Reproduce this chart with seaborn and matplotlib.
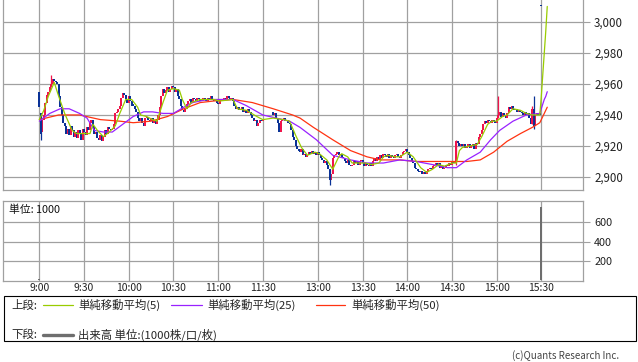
import numpy as np
import seaborn as sns
import matplotlib
matplotlib.use('Agg')
import matplotlib.pyplot as plt
from matplotlib.lines import Line2D
from matplotlib.patches import Rectangle

# 1-minute bars: morning 9:00-11:30, afternoon 12:30-15:30
am_open = [2955, 2941, 2929, 2937, 2940, 2948, 2953, 2955, 2958, 2960,
           2963, 2962, 2961, 2960, 2952, 2945, 2940, 2935, 2933, 2928,
           2931, 2927, 2933, 2930, 2926, 2929, 2925, 2930, 2928, 2924,
           2931, 2929, 2927, 2932, 2930, 2935, 2937, 2933, 2928, 2929,
           2925, 2924, 2927, 2923, 2926, 2930, 2928, 2932, 2931, 2930,
           2931, 2934, 2941, 2942, 2944, 2946, 2951, 2954, 2953, 2950,
           2948, 2952, 2949, 2946, 2946, 2944, 2942, 2938, 2936, 2938,
           2935, 2933, 2938, 2939, 2937, 2936, 2938, 2935, 2937, 2934,
           2937, 2940, 2945, 2952, 2957, 2954, 2956, 2958, 2955, 2957,
           2959, 2958, 2955, 2957, 2952, 2950, 2946, 2943, 2942, 2944,
           2947, 2949, 2950, 2948, 2951, 2950, 2949, 2951, 2950, 2949,
           2950, 2951, 2950, 2949, 2951, 2950, 2952, 2950, 2949, 2950,
           2948, 2947, 2949, 2950, 2949, 2951, 2950, 2952, 2951, 2950,
           2951, 2949, 2946, 2944, 2945, 2943, 2944, 2945, 2942, 2943,
           2941, 2944, 2942, 2940, 2938, 2936, 2937, 2933, 2935, 2937,
           2936]
am_close = [2945, 2928, 2937, 2940, 2948, 2953, 2955, 2958, 2960, 2963,
            2962, 2961, 2960, 2952, 2945, 2940, 2935, 2933, 2928, 2931,
            2927, 2933, 2930, 2926, 2929, 2925, 2930, 2928, 2924, 2931,
            2929, 2927, 2932, 2930, 2935, 2937, 2933, 2928, 2929, 2925,
            2924, 2927, 2923, 2926, 2930, 2928, 2932, 2931, 2930, 2931,
            2934, 2941, 2942, 2944, 2946, 2951, 2954, 2953, 2950, 2948,
            2952, 2949, 2946, 2946, 2944, 2942, 2938, 2936, 2938, 2935,
            2933, 2938, 2939, 2937, 2936, 2938, 2935, 2937, 2934, 2937,
            2940, 2945, 2952, 2957, 2954, 2956, 2958, 2955, 2957, 2959,
            2958, 2955, 2957, 2952, 2950, 2946, 2943, 2942, 2944, 2947,
            2949, 2950, 2948, 2951, 2950, 2949, 2951, 2950, 2949, 2950,
            2951, 2950, 2949, 2951, 2950, 2952, 2950, 2949, 2950, 2948,
            2947, 2949, 2950, 2949, 2951, 2950, 2952, 2951, 2950, 2951,
            2949, 2946, 2944, 2945, 2943, 2944, 2945, 2942, 2943, 2941,
            2944, 2942, 2940, 2938, 2936, 2937, 2933, 2935, 2937, 2936,
            2937]
pm_open = [2942, 2940, 2941, 2938, 2935, 2929, 2936, 2937, 2938, 2936,
           2937, 2935, 2934, 2930, 2926, 2924, 2920, 2918, 2917, 2916,
           2918, 2914, 2915, 2913, 2914, 2916, 2915, 2917, 2915, 2916,
           2914, 2916, 2914, 2912, 2911, 2909, 2910, 2908, 2905, 2898,
           2902, 2912, 2914, 2915, 2916, 2914, 2915, 2913, 2912, 2910,
           2909, 2911, 2908, 2907, 2908, 2910, 2909, 2910, 2908, 2910,
           2911, 2909, 2907, 2909, 2908, 2907, 2909, 2907, 2910, 2912,
           2910, 2913, 2911, 2914, 2912, 2915, 2914, 2913, 2915, 2912,
           2914, 2913, 2912, 2914, 2915, 2913, 2912, 2914, 2916, 2917,
           2918, 2916, 2914, 2912, 2910, 2909, 2906, 2905, 2904, 2903,
           2904, 2902, 2903, 2902, 2904, 2905, 2906, 2905, 2907, 2908,
           2909, 2907, 2909, 2906, 2907, 2905, 2906, 2908, 2907, 2909,
           2908, 2910, 2909, 2910, 2923, 2922, 2920, 2921, 2920, 2921,
           2919, 2920, 2921, 2919, 2920, 2921, 2918, 2922, 2921, 2926,
           2928, 2930, 2934, 2936, 2935, 2937, 2936, 2935, 2937, 2936,
           2935, 2938, 2940, 2942, 2939, 2941, 2940, 2938, 2941, 2945,
           2944, 2946, 2944, 2943, 2944, 2942, 2943, 2942, 2941, 2940,
           2942, 2940, 2941, 2938, 2934, 2944, 2933, 2940, 2941, 2940,
           3011]
pm_close = [2940, 2941, 2938, 2935, 2929, 2936, 2937, 2938, 2936, 2937,
            2935, 2934, 2930, 2926, 2924, 2920, 2918, 2917, 2916, 2918,
            2914, 2915, 2913, 2914, 2916, 2915, 2917, 2915, 2916, 2914,
            2916, 2914, 2912, 2911, 2909, 2910, 2908, 2905, 2898, 2902,
            2912, 2914, 2915, 2916, 2914, 2915, 2913, 2912, 2910, 2909,
            2911, 2908, 2907, 2908, 2910, 2909, 2910, 2908, 2910, 2911,
            2909, 2907, 2909, 2908, 2907, 2909, 2907, 2910, 2912, 2910,
            2913, 2911, 2914, 2912, 2915, 2914, 2913, 2915, 2912, 2914,
            2913, 2912, 2914, 2915, 2913, 2912, 2914, 2916, 2917, 2918,
            2916, 2914, 2912, 2910, 2909, 2906, 2905, 2904, 2903, 2904,
            2902, 2903, 2902, 2904, 2905, 2906, 2905, 2907, 2908, 2909,
            2907, 2909, 2906, 2907, 2905, 2906, 2908, 2907, 2909, 2908,
            2910, 2909, 2910, 2923, 2922, 2920, 2921, 2920, 2921, 2919,
            2920, 2921, 2919, 2920, 2921, 2918, 2922, 2921, 2926, 2928,
            2930, 2934, 2936, 2935, 2937, 2936, 2935, 2937, 2936, 2935,
            2938, 2940, 2942, 2939, 2941, 2940, 2938, 2941, 2945, 2944,
            2946, 2944, 2943, 2944, 2942, 2943, 2942, 2941, 2940, 2942,
            2940, 2941, 2938, 2934, 2944, 2933, 2940, 2941, 2940, 2940,
            3010]

# visible wicks
wick_time = ['9:01', '9:08', '13:08', '14:33', '15:01', '15:24', '15:25']
wick_high = [2941, 2966, 2905, 2924, 2952, 2946, 2952]
wick_low = [2924, 2958, 2895, 2908, 2938, 2934, 2931]

# volume (1000 shares), only bars that show at this scale
vol_time = ['9:00', '15:30']
vol_value = [15, 756]

# moving averages
ma5_time = ['9:00', '9:03', '9:06', '9:10', '9:13', '9:17', '9:22', '9:25', '9:30', '9:34',
            '9:36', '9:39', '9:43', '9:47', '9:51', '9:54', '9:58', '10:02', '10:06', '10:08',
            '10:12', '10:16', '10:19', '10:23', '10:26', '10:30', '10:34', '10:36', '10:39', '10:42',
            '10:48', '10:57', '11:01', '11:10', '11:13', '11:19', '11:26', '11:30',
            '12:30', '12:37', '12:41', '12:45', '12:49', '12:53', '12:58', '13:01', '13:06', '13:10',
            '13:14', '13:16', '13:20', '13:23', '13:27', '13:32', '13:36', '13:41', '13:44', '13:47',
            '13:52', '13:55', '14:00', '14:04', '14:09', '14:13', '14:17', '14:21', '14:25', '14:30',
            '14:33', '14:35', '14:37', '14:42', '14:47', '14:50', '14:54', '14:57', '15:00', '15:04',
            '15:07', '15:11', '15:16', '15:20', '15:24', '15:29', '15:30', '15:31', '15:32', '15:33',
            '15:34']
ma5_value = [2937, 2943, 2952, 2961, 2952, 2941, 2930, 2928, 2928, 2928,
             2934, 2930, 2926, 2929, 2933, 2941, 2950, 2950, 2945, 2940,
             2939, 2937, 2936, 2948, 2956, 2957, 2956, 2950, 2944, 2948,
             2950, 2950, 2949, 2950, 2944, 2943, 2939, 2937,
             2938, 2937, 2936, 2927, 2919, 2914, 2916, 2915, 2911, 2905,
             2913, 2915, 2913, 2909, 2909, 2909, 2908, 2909, 2913, 2914,
             2913, 2913, 2916, 2913, 2906, 2903, 2905, 2908, 2907, 2909,
             2909, 2917, 2919, 2920, 2921, 2926, 2934, 2936, 2936, 2939,
             2940, 2944, 2943, 2941, 2940, 2940, 2952, 2966, 2980, 2994,
             3010]
ma25_time = ['9:00', '9:07', '9:14', '9:20', '9:27', '9:32', '9:37', '9:43', '9:49', '9:56',
             '10:03', '10:10', '10:16', '10:23', '10:30', '10:37', '10:43', '10:53', '11:01', '11:10',
             '11:19', '11:30',
             '12:32', '12:41', '12:48', '12:59', '13:10', '13:22', '13:33', '13:44', '13:55', '14:06',
             '14:17', '14:27', '14:33', '14:40', '14:49', '14:56', '15:02', '15:11', '15:20', '15:29',
             '15:30', '15:31', '15:32', '15:33', '15:34']
ma25_value = [2936, 2941, 2944, 2944, 2941, 2938, 2930, 2929, 2929, 2934,
              2939, 2942, 2942, 2941, 2941, 2945, 2948, 2950, 2950, 2950,
              2946, 2940,
              2938, 2936, 2932, 2924, 2914, 2911, 2909, 2909, 2911, 2910,
              2908, 2906, 2906, 2911, 2916, 2924, 2930, 2936, 2940, 2941,
              2944, 2947, 2950, 2952, 2955]
ma50_time = ['9:00', '9:13', '9:27', '9:41', '9:54', '10:03', '10:15', '10:26', '10:37', '10:48',
             '10:57', '11:10', '11:23', '11:30',
             '12:30', '12:43', '12:48', '12:57', '13:10', '13:22', '13:33', '13:42', '13:55', '14:06',
             '14:29', '14:40', '14:49', '14:58', '15:07', '15:16', '15:24', '15:29', '15:30', '15:31',
             '15:32', '15:33', '15:34']
ma50_value = [2937, 2940, 2940, 2937, 2936, 2935, 2936, 2939, 2944, 2948,
              2949, 2950, 2948, 2946,
              2944, 2940, 2938, 2932, 2924, 2917, 2913, 2911, 2911, 2910,
              2910, 2910, 2911, 2916, 2923, 2928, 2932, 2935, 2937, 2939,
              2941, 2943, 2945]

time_ticks = ['9:00', '9:30', '10:00', '10:30', '11:00', '11:30',
              '13:00', '13:30', '14:00', '14:30', '15:00', '15:30']
price_ticks = [2900, 2920, 2940, 2960, 2980, 3000]
vol_ticks = [200, 400, 600]
ma_labels = ['単純移動平均(5)', '単純移動平均(25)', '単純移動平均(50)']

RED = '#f0144b'
BLUE = '#0a3296'
GRID = '#a0a0a0'
MA_COLORS = ['#99cc00', '#9922ff', '#ff3311']
VOL_COLOR = '#6e6e6e'
LUNCH_GAP = 7


def pos(t):
    h, m = (int(v) for v in t.split(':'))
    mins = h * 60 + m
    if mins <= 11 * 60 + 30:
        return mins - 9 * 60
    return 150 + LUNCH_GAP + mins - (12 * 60 + 30)


sns.set_theme(style='white')
plt.rcParams['font.family'] = ['Noto Sans CJK JP', 'DejaVu Sans']

W, H = 638, 362
fig = plt.figure(figsize=(W / 100, H / 100), dpi=100)


def box(l, t, r, b):
    return [l / W, 1 - b / H, (r - l) / W, (b - t) / H]


ax = fig.add_axes(box(3, -1, 583, 190))
axv = fig.add_axes(box(3, 201, 583, 281))

# candles
opens = np.array(am_open + pm_open)
closes = np.array(am_close + pm_close)
xs = np.r_[np.arange(len(am_close)), 150 + LUNCH_GAP + np.arange(len(pm_close))]
colors = np.where(closes > opens, RED, BLUE)
bottom = np.minimum(opens, closes)
height = np.maximum(np.abs(closes - opens), 1.0)
ax.bar(xs, height, bottom=bottom, width=1.35, color=colors, linewidth=0,
       antialiased=False, zorder=2)

wx = [pos(t) for t in wick_time]
wc = [colors[list(xs).index(x)] for x in wx]
ax.vlines(wx, wick_low, wick_high, colors=wc, lw=0.9, zorder=2)

# moving averages
for times, vals, c in [(ma50_time, ma50_value, MA_COLORS[2]),
                       (ma25_time, ma25_value, MA_COLORS[1]),
                       (ma5_time, ma5_value, MA_COLORS[0])]:
    sns.lineplot(x=[pos(t) for t in times], y=vals, ax=ax, color=c, lw=0.9,
                 sort=False, estimator=None, zorder=3)

# volume
axv.bar([pos(t) for t in vol_time], vol_value, width=1.5, color=VOL_COLOR,
        linewidth=0, zorder=2)

tick_x = [pos(t) for t in time_ticks]
for a in (ax, axv):
    a.set_xlim(-24.4, 365.0)
    a.set_xticks(tick_x)
    a.grid(True, color=GRID, lw=0.9)
    a.set_axisbelow(True)
    for s in a.spines.values():
        s.set_color(GRID)
        s.set_linewidth(0.9)
    a.yaxis.tick_right()
    a.tick_params(axis='y', right=True, left=False, length=5, width=0.8,
                  color=GRID, pad=3, labelsize=8.3, labelcolor='#222222')
    a.set_xlabel('')
    a.set_ylabel('')

ax.set_ylim(2891.6, 3014.8)
ax.set_yticks(price_ticks)
ax.set_yticklabels([f'{v:,}' for v in price_ticks])
ax.tick_params(axis='x', bottom=False, length=0, labelbottom=False)

axv.set_ylim(-7, 820)
axv.set_yticks(vol_ticks)
axv.set_yticklabels([str(v) for v in vol_ticks])
axv.set_xticklabels(time_ticks)
axv.tick_params(axis='x', bottom=False, length=0, pad=1.5, labelsize=7.5,
                labelcolor='#222222')
axv.tick_params(axis='y', labelsize=7.8)

fig.text(9 / W, 1 - 210 / H, '単位: 1000', va='center', fontsize=7.8, color='#111111')

# legend box
fig.add_artist(Rectangle((4 / W, 1 - 341 / H), 632 / W, 45 / H, fill=False,
                         ec='black', lw=0.8, transform=fig.transFigure))


def legend_line(x0, x1, y, color, lw):
    fig.add_artist(Line2D([x0 / W, x1 / W], [1 - y / H] * 2, color=color, lw=lw,
                          transform=fig.transFigure))


fig.text(11 / W, 1 - 305 / H, '上段:', va='center', fontsize=8.2)
for (x0, x1, tx), c, lab in zip([(43, 73, 78), (171, 202, 207), (316, 345, 351)],
                                MA_COLORS, ma_labels):
    legend_line(x0, x1, 305, c, 0.9)
    fig.text(tx / W, 1 - 305 / H, lab, va='center', fontsize=8.2)

fig.text(11 / W, 1 - 335 / H, '下段:', va='center', fontsize=8.2)
legend_line(43, 73, 335, VOL_COLOR, 2.4)
fig.text(78 / W, 1 - 335 / H, '出来高 単位:(1000株/口/枚)', va='center', fontsize=8.2)

fig.text(619 / W, 1 - 356 / H, '(c)Quants Research Inc.', ha='right', va='center',
         fontsize=7, color='#444444')

fig.savefig('out.png', dpi=100)
